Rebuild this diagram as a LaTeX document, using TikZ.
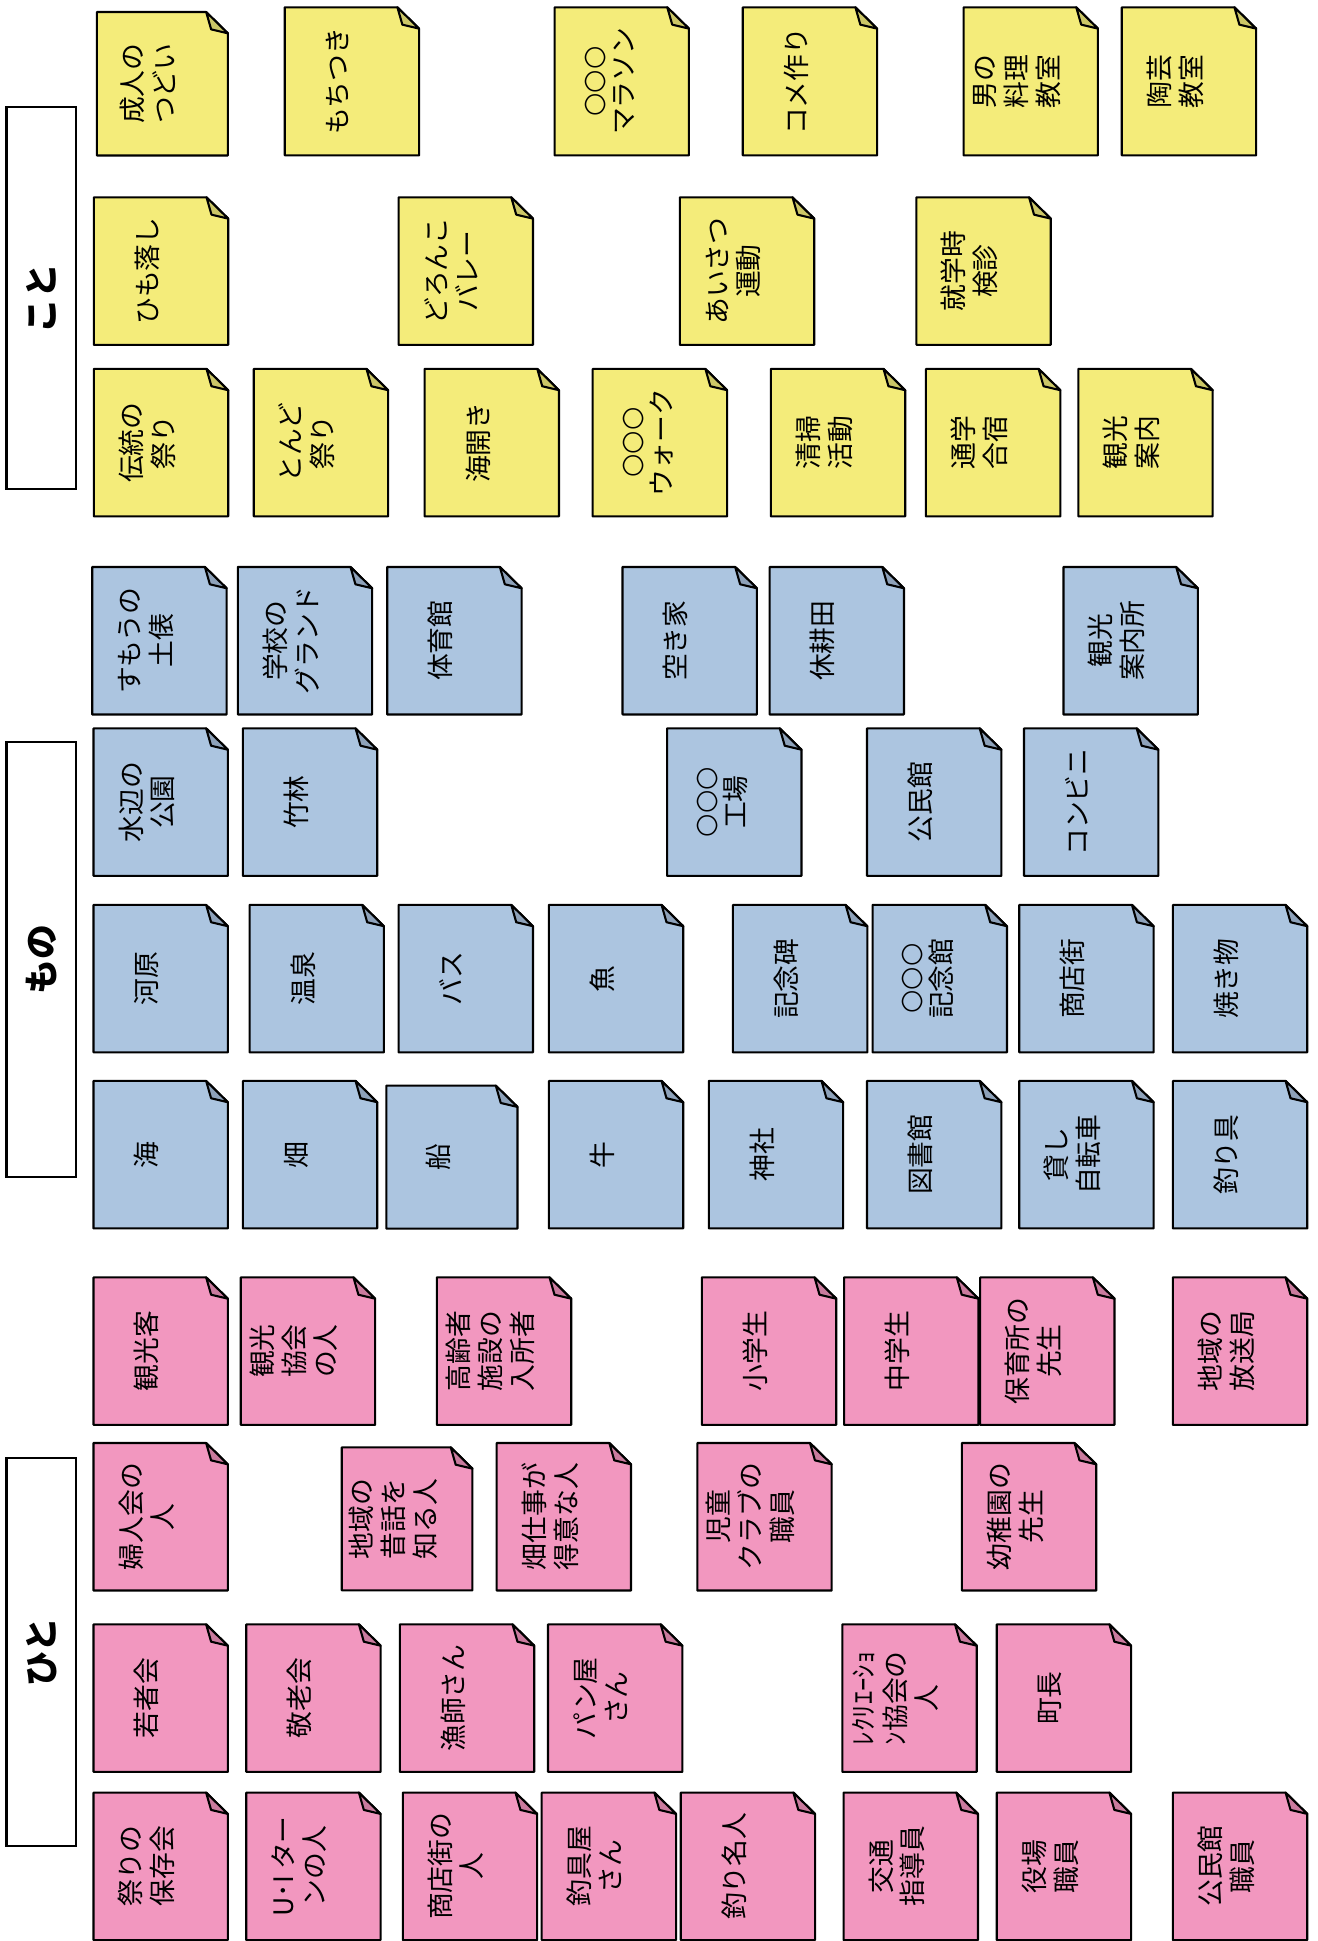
\documentclass[tikz,border=0pt]{standalone}
\usepackage{tikz}
\usepackage{xcolor}
\usepackage{graphicx}
\usepackage{fontspec}
\setmainfont{Noto Sans CJK JP}
\newfontfamily\symfont{DejaVu Sans}
\usetikzlibrary{calc}

\definecolor{kotoFill}{HTML}{F4EC7A}
\definecolor{kotoFold}{HTML}{CCC767}
\definecolor{monoFill}{HTML}{ACC5E0}
\definecolor{monoFold}{HTML}{8EA2BA}
\definecolor{hitoFill}{HTML}{F297BF}
\definecolor{hitoFold}{HTML}{CA7B9E}

%% rotated card text, pushed a little away from the folded corner
\newcommand{\vt}[1]{\rotatebox{90}{\begin{tabular}{@{}c@{}}#1\end{tabular}}\kern.21cm}
\newcommand{\ooo}{{\symfont ○○○}}

\begin{document}
\begin{tikzpicture}[x=0.0125cm, y=-0.0125cm,
  card/.style 2 args={rectangle, anchor=north west, inner sep=0pt,
    minimum width=1.3425cm, minimum height=1.475cm,
    font=\fontsize{7.7}{8.9}\selectfont,
    append after command={\pgfextra{%
      \filldraw[fill=#1, line width=.6pt, line join=round] (\tikzlastnode.south west)
        -- (\tikzlastnode.north west) -- ([xshift=-2.19mm]\tikzlastnode.north east)
        -- ([yshift=-2.15mm]\tikzlastnode.north east) -- (\tikzlastnode.south east) -- cycle;
      \filldraw[fill=#2, line width=.6pt, line join=round] ([xshift=-2.19mm]\tikzlastnode.north east)
        -- ([xshift=-1.69mm, yshift=-1.75mm]\tikzlastnode.north east)
        -- ([yshift=-2.15mm]\tikzlastnode.north east) -- cycle;}}},
  koto/.style={card={kotoFill}{kotoFold}},
  mono/.style={card={monoFill}{monoFold}},
  hito/.style={card={hitoFill}{hitoFold}},
  group/.style={rectangle, draw, line width=.6pt, fill=white, anchor=north west,
    inner sep=0pt, minimum width=0.706cm, font=\fontsize{10}{12}\selectfont\bfseries}]

  \useasboundingbox (0,0) rectangle (1064,1568);

  %% Group labels (left side)
  \node[group, minimum height=3.86cm]  (koto) at (4.4,85.6)   {\rotatebox{90}{こと}};
  \node[group, minimum height=4.388cm] (mono) at (4.4,598.9)  {\rotatebox{90}{もの}};
  \node[group, minimum height=3.911cm] (hito) at (4.4,1177.1) {\rotatebox{90}{ひと}};

  %% こと -- yellow cards
  \node[koto, minimum width=1.309cm, minimum height=1.434cm] (seijin) at (78.2,9.7) {\vt{成人の\\つどい}};
  \node[koto, minimum height=1.481cm] (mochi)    at (230,5.9)   {\vt{もちつき}};
  \node[koto, minimum height=1.481cm] (marathon) at (448,5.9)   {\vt{\ooo\\マラソン}};
  \node[koto, minimum height=1.481cm] (kome)     at (600,5.9)   {\vt{コメ作り}};
  \node[koto, minimum height=1.481cm] (ryouri)   at (778.4,5.9) {\vt{男の\\料理\\教室}};
  \node[koto, minimum height=1.481cm] (tougei)   at (906.2,5.9) {\vt{陶芸\\教室}};

  \node[koto] (himo)    at (75.8,159.4)  {\vt{ひも落し}};
  \node[koto] (doronko) at (322,159.4)   {\vt{どろんこ\\バレー}};
  \node[koto] (aisatsu) at (549.2,159.4) {\vt{あいさつ\\運動}};
  \node[koto] (kenshin) at (740.3,159.4) {\vt{就学時\\検診}};

  \node[koto] (dentou)    at (75.8,298)  {\vt{伝統の\\祭り}};
  \node[koto] (tondo)     at (205,298)   {\vt{とんど\\祭り}};
  \node[koto] (umibiraki) at (343,298)   {\vt{海開き}};
  \node[koto] (walk)      at (478.8,298) {\vt{\ooo\\ウォーク}};
  \node[koto] (seisou)    at (622.7,298) {\vt{清掃\\活動}};
  \node[koto] (gasshuku)  at (748,298)   {\vt{通学\\合宿}};
  \node[koto] (annai)     at (871.1,298) {\vt{観光\\案内}};

  %% もの -- blue cards
  \node[mono] (dohyou)     at (74.5,458)  {\vt{すもうの\\土俵}};
  \node[mono] (ground)     at (192.1,458) {\vt{学校の\\グランド}};
  \node[mono] (taiikukan)  at (312.8,458) {\vt{体育館}};
  \node[mono] (akiya)      at (502.9,458) {\vt{空き家}};
  \node[mono] (kyuukouden) at (621.7,458) {\vt{休耕田}};
  \node[mono] (annaijo)    at (859.1,458) {\vt{観光\\案内所}};

  \node[mono] (kouen)     at (75.5,588.4)  {\vt{水辺の\\公園}};
  \node[mono] (chikurin)  at (196.2,588.4) {\vt{竹林}};
  \node[mono] (koujou)    at (538.9,588.4) {\vt{\ooo\\工場}};
  \node[mono] (kouminkan) at (700.4,588.4) {\vt{公民館}};
  \node[mono] (konbini)   at (827.2,588.4) {\vt{コンビニ}};

  \node[mono] (kawara)     at (75.5,731)  {\vt{河原}};
  \node[mono] (onsen)      at (201.6,731) {\vt{温泉}};
  \node[mono] (bus)        at (322,731)   {\vt{バス}};
  \node[mono] (sakana)     at (443.4,731) {\vt{魚}};
  \node[mono] (kinenhi)    at (592.1,731) {\vt{記念碑}};
  \node[mono] (kinenkan)   at (704.9,731) {\vt{\ooo\\記念館}};
  \node[mono] (shoutengai) at (823.4,731) {\vt{商店街}};
  \node[mono] (yakimono)   at (947.5,731) {\vt{焼き物}};

  \node[mono] (umi)      at (75.5,873.2)  {\vt{海}};
  \node[mono] (hatake)   at (196.2,873.2) {\vt{畑}};
  \node[mono, minimum width=1.31cm, minimum height=1.429cm] (fune) at (312.1,877) {\vt{船}};
  \node[mono] (ushi)     at (443.4,873.2) {\vt{牛}};
  \node[mono] (jinja)    at (572.6,873.2) {\vt{神社}};
  \node[mono] (toshokan) at (700.4,873.2) {\vt{図書館}};
  \node[mono] (jitensha) at (823.4,873.2) {\vt{貸し\\自転車}};
  \node[mono] (tsurigu)  at (947.5,873.2) {\vt{釣り具}};

  %% ひと -- pink cards
  \node[hito] (kankoukyaku) at (75.5,1031.9)  {\vt{観光客}};
  \node[hito] (kyoukai)     at (194.5,1031.9) {\vt{観光\\協会\\の人}};
  \node[hito] (koureisha)   at (352.9,1031.9) {\vt{高齢者\\施設の\\入所者}};
  \node[hito] (shougakusei) at (567,1031.9)   {\vt{小学生}};
  \node[hito] (chuugakusei) at (681.9,1031.9) {\vt{中学生}};
  \node[hito] (hoikusho)    at (791.8,1031.9) {\vt{保育所の\\先生}};
  \node[hito] (housou)      at (947.5,1031.9) {\vt{地域の\\放送局}};

  \node[hito] (fujinkai)  at (75.5,1165.7) {\vt{婦人会の\\人}};
  \node[hito, minimum width=1.305cm, minimum height=1.43cm] (mukashi) at (276.1,1169.2) {\vt{地域の\\昔話を\\知る人}};
  \node[hito] (hatashigoto) at (401.2,1165.7) {\vt{畑仕事が\\得意な人}};
  \node[hito] (jidou)     at (563.3,1165.7) {\vt{児童\\クラブの\\職員}};
  \node[hito] (youchien)  at (777,1165.7)   {\vt{幼稚園の\\先生}};

  \node[hito] (wakamono)   at (75.5,1312.2)  {\vt{若者会}};
  \node[hito] (keirou)     at (198.9,1312.2) {\vt{敬老会}};
  \node[hito] (ryoushi)    at (323,1312.2)   {\vt{漁師さん}};
  \node[hito] (panya)      at (442.7,1312.2) {\vt{パン屋\\さん}};
  \node[hito] (recreation) at (680.5,1312.2) {\vt{ﾚｸﾘｴｰｼｮ\\ﾝ協会の\\人}};
  \node[hito] (chouchou)   at (805.2,1312.2) {\vt{町長}};

  \node[hito] (hozonkai)   at (75.5,1448.1)  {\vt{祭りの\\保存会}};
  \node[hito] (uturn)      at (198.9,1448.1) {\vt{U･I ター\\ンの人}};
  \node[hito] (shouten)    at (325.4,1448.1) {\vt{商店街の\\人}};
  \node[hito] (tsuriguya)  at (437.6,1448.1) {\vt{釣具屋\\さん}};
  \node[hito] (meijin)     at (549.9,1448.1) {\vt{釣り名人}};
  \node[hito] (koutsuu)    at (681.5,1448.1) {\vt{交通\\指導員}};
  \node[hito] (yakuba)     at (805.2,1448.1) {\vt{役場\\職員}};
  \node[hito] (kouminshoku) at (947.5,1448.1) {\vt{公民館\\職員}};
\end{tikzpicture}
\end{document}
